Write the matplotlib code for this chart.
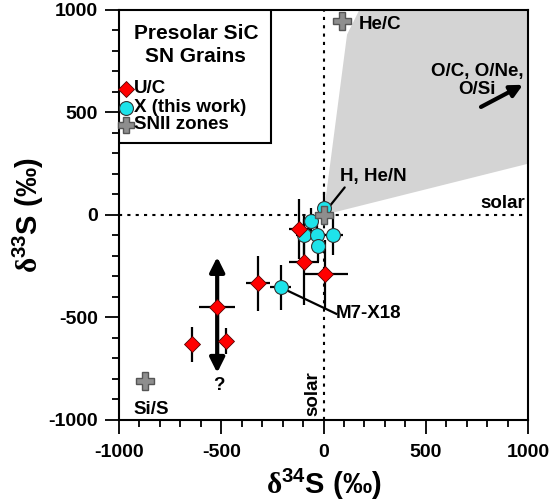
import matplotlib
matplotlib.use("Agg")
import matplotlib.pyplot as plt
from matplotlib.patches import Polygon, Rectangle
import numpy as np

plt.rcParams["font.family"] = ["Liberation Sans", "DejaVu Sans"]
plt.rcParams["font.weight"] = "bold"
plt.rcParams["axes.unicode_minus"] = False
plt.rcParams["mathtext.fontset"] = "custom"
plt.rcParams["mathtext.rm"] = "Liberation Serif"
plt.rcParams["mathtext.bf"] = "Liberation Sans:bold"

# U/C grains (red diamonds)
uc_x = [-642, -520, -476, -321, -96, 8, -118]
uc_y = [-630, -449, -614, -333, -229, -287, -69]
uc_xerr = [30, 88, 30, 57, 73, 110, 50]
uc_yerr = [85, 0, 65, 133, 210, 165, 145]

# X grains, this work (cyan circles)
x_x = [2, -60, -96, -31, 46, -28, -210]
x_y = [33, -28, -97, -97, -97, -152, -353]
x_xerr = [25, 40, 40, 30, 50, 30, 50]
x_yerr = [80, 60, 100, 60, 100, 75, 110]

# SNII zone compositions (gray crosses)
sn_x = [88, 0, -875]
sn_y = [945, 0, -812]

# shaded O-zone field
field_x = [0, 115, 175, 1000, 1000]
field_y = [0, 880, 1000, 1000, 250]

legend_labels = ["U/C", "X (this work)", "SNII zones"]

# marker styles
uc_style = dict(marker="D", ms=8.5, mfc="#ff0000", mec="#550000", mew=0.6, ls="none")
x_style = dict(marker="o", ms=10, mfc="#1ee3ea", mec="#333333", mew=0.8, ls="none")
sn_style = dict(marker="P", ms=13.5, mfc="#8e8e8e", mec="#555555", mew=1, ls="none")

fig = plt.figure(figsize=(5.59, 5.04), dpi=100)
ax = fig.add_axes([0.2129, 0.1667, 0.7317, 0.8135])

ax.add_patch(Polygon(np.column_stack([field_x, field_y]), closed=True,
                     facecolor="#d4d4d4", edgecolor="none", zorder=0))

ax.axhline(0, color="black", ls=(0, (1.5, 2.5)), lw=1.5, zorder=1)
ax.axvline(0, color="black", ls=(0, (1.5, 2.5)), lw=1.5, zorder=1)

# error bars
ax.errorbar(uc_x, uc_y, xerr=uc_xerr, yerr=uc_yerr, fmt="none",
            ecolor="black", elinewidth=1.6, capsize=0, zorder=2)
ax.errorbar(x_x, x_y, xerr=x_xerr, yerr=x_yerr, fmt="none",
            ecolor="black", elinewidth=1.6, capsize=0, zorder=2)

# large uncertainty arrow on one U/C grain
ax.annotate("", xy=(uc_x[1], -770), xytext=(uc_x[1], -205),
            arrowprops=dict(arrowstyle="<|-|>", color="black", lw=3,
                            mutation_scale=22, shrinkA=0, shrinkB=0), zorder=3)

# leader line for M7-X18
ax.plot([x_x[6], 62], [x_y[6], -482], color="black", lw=1.6, zorder=2)

ax.plot(x_x, x_y, zorder=4, **x_style)
ax.plot(uc_x, uc_y, zorder=5, **uc_style)
ax.plot(sn_x, sn_y, zorder=6, **sn_style)

fs = 13.5
ax.text(170, 930, "He/C", fontsize=fs, fontweight="bold", va="center", ha="left")
ax.text(750, 655, "O/C, O/Ne,\nO/Si", fontsize=fs, fontweight="bold",
        va="center", ha="center", linespacing=1.05)
ax.annotate("", xy=(975, 635), xytext=(770, 527),
            arrowprops=dict(arrowstyle="-|>", color="black", lw=3,
                            mutation_scale=18, shrinkA=0, shrinkB=0))
ax.text(82, 190, "H, He/N", fontsize=fs, fontweight="bold", va="center", ha="left")
ax.annotate("", xy=(18, 28), xytext=(112, 145),
            arrowprops=dict(arrowstyle="-", color="black", lw=1.6))
ax.text(985, 15, "solar", fontsize=fs, fontweight="bold", va="bottom", ha="right")
ax.text(-12, -980, "solar", fontsize=fs, fontweight="bold", va="bottom",
        ha="right", rotation=90)
ax.text(-840, -950, "Si/S", fontsize=fs, fontweight="bold", va="center", ha="center")
ax.text(-512, -830, "?", fontsize=fs, fontweight="bold", va="center", ha="center")
ax.text(62, -482, "M7-X18", fontsize=fs, fontweight="bold", va="center", ha="left")

# legend box, drawn by hand so the layout matches
ax.add_patch(Rectangle((0, 0.676), 0.372, 0.324, transform=ax.transAxes,
                       facecolor="white", edgecolor="black", lw=1.5, zorder=10))
ax.text(0.188, 0.914, "Presolar SiC\nSN Grains", transform=ax.transAxes,
        fontsize=15, fontweight="bold", ha="center", va="center",
        multialignment="center", linespacing=1.3, zorder=11)
leg_y = [0.808, 0.762, 0.720]
for yy, lab, st in zip(leg_y, legend_labels, [uc_style, x_style, sn_style]):
    st = dict(st)
    if st["marker"] == "P":
        st["ms"] = 12
    if st["marker"] == "D":
        st["ms"] = 8
    ax.plot([0.018], [yy], transform=ax.transAxes, zorder=11, clip_on=False, **st)
    ax.text(0.036, yy, lab, transform=ax.transAxes, fontsize=fs,
            fontweight="bold", ha="left", va="center", zorder=11)

ax.set_xlim(-1000, 1000)
ax.set_ylim(-1000, 1000)
ax.set_xticks(np.arange(-1000, 1001, 500))
ax.set_yticks(np.arange(-1000, 1001, 500))
ax.set_xticks(np.arange(-1000, 1001, 100), minor=True)
ax.set_yticks(np.arange(-1000, 1001, 100), minor=True)
ax.tick_params(which="major", direction="out", length=10, width=1.3,
               labelsize=14)
ax.tick_params(axis="x", which="major", pad=7)
ax.tick_params(axis="y", which="major", pad=5)
ax.tick_params(which="minor", direction="out", length=5, width=1.3)
for lab in ax.get_xticklabels() + ax.get_yticklabels():
    lab.set_fontweight("bold")
for sp in ax.spines.values():
    sp.set_linewidth(1.5)

ax.set_xlabel(r"$\mathrm{\delta}^{\mathbf{34}}$S (‰)", fontsize=21,
              fontweight="bold", va="center")
ax.set_ylabel(r"$\mathrm{\delta}^{\mathbf{33}}$S (‰)", fontsize=21,
              fontweight="bold", va="center")
ax.xaxis.set_label_coords(0.5, -0.158)
ax.yaxis.set_label_coords(-0.222, 0.5)

fig.savefig("out.png", dpi=100, facecolor="white")
